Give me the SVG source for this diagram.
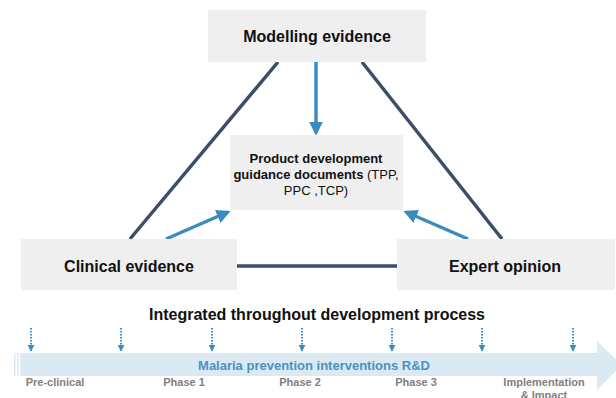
<svg xmlns="http://www.w3.org/2000/svg" width="616" height="398" viewBox="0 0 616 398">
  <defs>
    <style>
      .box { fill: #efefef; }
      .title { font-family: "Liberation Sans", Arial, sans-serif; font-weight: bold; font-size: 16px; fill: #111; text-anchor: middle; }
      .doc { font-family: "Liberation Sans", Arial, sans-serif; font-size: 13px; fill: #111; text-anchor: middle; }
      .b { font-weight: bold; }
      .edge { stroke: #3c4d69; stroke-width: 3.5; fill: none; }
      .feed { stroke: #3a8cc0; stroke-width: 3.5; fill: none; }
      .tick { stroke: #3a8cc0; stroke-width: 2; stroke-dasharray: 1.5 1.5; fill: none; }
      .phase { font-family: "Liberation Sans", Arial, sans-serif; font-weight: bold; font-size: 11px; fill: #808080; text-anchor: middle; }
      .band { fill: #dbe9f3; }
    </style>
    <marker id="head" viewBox="0 0 10 10" refX="8" refY="5" markerWidth="4" markerHeight="4" orient="auto" markerUnits="strokeWidth">
      <path d="M0,0 L10,5 L0,10 z" fill="#3a8cc0"/>
    </marker>
    <marker id="tickhead" viewBox="0 0 10 10" refX="9" refY="5" markerWidth="3.5" markerHeight="3.5" orient="auto" markerUnits="strokeWidth">
      <path d="M0,0 L10,5 L0,10 z" fill="#3a8cc0"/>
    </marker>
  </defs>

  <!-- triangle edges and feed arrows -->
  <g id="connectors">
    <line class="edge" x1="130" y1="239" x2="278" y2="62"/>
    <line class="edge" x1="362" y1="62" x2="502" y2="239"/>
    <line class="edge" x1="237" y1="266" x2="397" y2="266"/>
    <line class="feed" x1="316" y1="62" x2="316" y2="133" marker-end="url(#head)"/>
    <line class="feed" x1="166" y1="239" x2="228" y2="212" marker-end="url(#head)"/>
    <line class="feed" x1="468" y1="239" x2="406" y2="212" marker-end="url(#head)"/>
  </g>

  <g id="modelling">
    <rect class="box" x="208" y="10" width="218" height="52"/>
    <text class="title" x="317" y="42">Modelling evidence</text>
  </g>

  <g id="guidance">
    <rect class="box" x="230" y="135" width="173" height="75"/>
    <text class="doc b" x="316" y="163">Product development</text>
    <text class="doc" x="316" y="179"><tspan class="b">guidance documents</tspan> (TPP,</text>
    <text class="doc" x="316" y="195">PPC ,TCP)</text>
  </g>

  <g id="clinical">
    <rect class="box" x="21" y="239" width="216" height="51"/>
    <text class="title" x="129" y="272">Clinical evidence</text>
  </g>

  <g id="expert">
    <rect class="box" x="397" y="239" width="218" height="51"/>
    <text class="title" x="505" y="272">Expert opinion</text>
  </g>

  <!-- development timeline -->
  <g id="timeline">
    <text class="title" x="317" y="320">Integrated throughout development process</text>
    <rect class="band" x="14" y="353" width="1.5" height="23"/>
    <rect class="band" x="17" y="353" width="1.5" height="23"/>
    <path class="band" d="M20,353 H597 V341 L622,365 L597,390 V376 H20 z"/>
    <text x="314" y="370" font-family="Liberation Sans, Arial, sans-serif" font-weight="bold" font-size="13" fill="#4a92c4" text-anchor="middle">Malaria prevention interventions R&amp;D</text>
    <g id="ticks">
      <line class="tick" x1="31" y1="328" x2="31" y2="351" marker-end="url(#tickhead)"/>
      <line class="tick" x1="121" y1="328" x2="121" y2="351" marker-end="url(#tickhead)"/>
      <line class="tick" x1="212" y1="328" x2="212" y2="351" marker-end="url(#tickhead)"/>
      <line class="tick" x1="302" y1="328" x2="302" y2="351" marker-end="url(#tickhead)"/>
      <line class="tick" x1="392" y1="328" x2="392" y2="351" marker-end="url(#tickhead)"/>
      <line class="tick" x1="482" y1="328" x2="482" y2="351" marker-end="url(#tickhead)"/>
      <line class="tick" x1="573" y1="328" x2="573" y2="351" marker-end="url(#tickhead)"/>
    </g>
    <text class="phase" x="55" y="386">Pre-clinical</text>
    <text class="phase" x="184" y="386">Phase 1</text>
    <text class="phase" x="300" y="386">Phase 2</text>
    <text class="phase" x="416" y="386">Phase 3</text>
    <text class="phase" x="544" y="386">Implementation</text>
    <text class="phase" x="544" y="399">&amp; Impact</text>
  </g>
</svg>
